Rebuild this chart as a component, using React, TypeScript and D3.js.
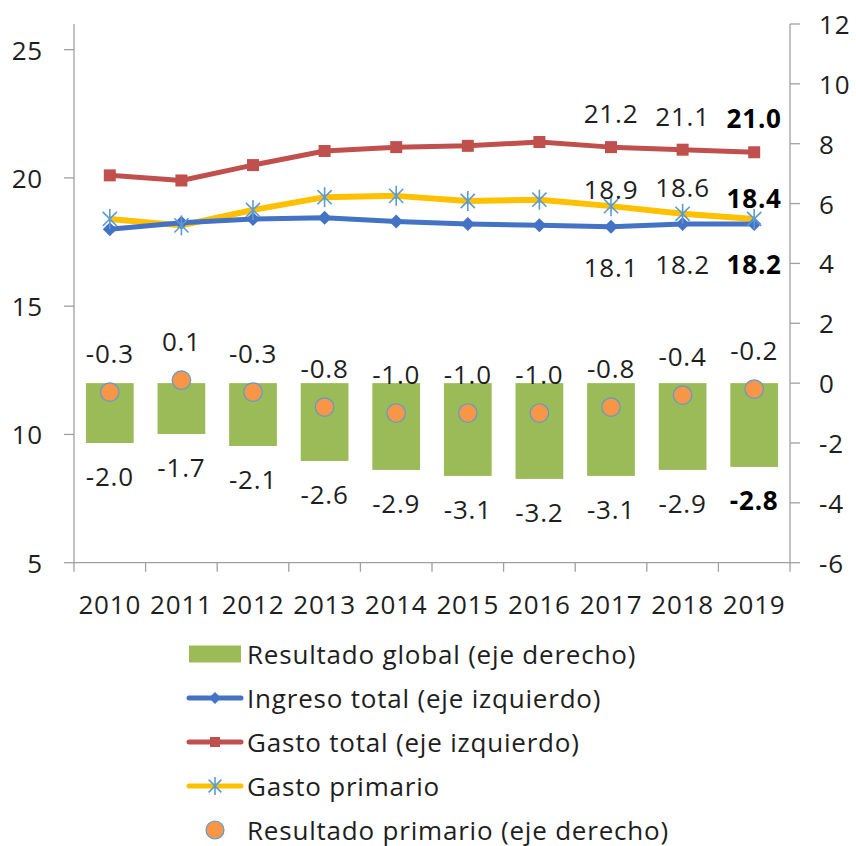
import React from "react";
import * as d3 from "d3";

const years = ["2010", "2011", "2012", "2013", "2014", "2015", "2016", "2017", "2018", "2019"];
const ingresoTotal = [18.0, 18.25, 18.4, 18.45, 18.3, 18.2, 18.15, 18.1, 18.2, 18.2];
const gastoTotal = [20.1, 19.9, 20.5, 21.05, 21.2, 21.25, 21.4, 21.2, 21.1, 21.0];
const gastoPrimario = [18.4, 18.15, 18.75, 19.25, 19.3, 19.1, 19.15, 18.9, 18.6, 18.4];
const resultadoGlobal = [-2.0, -1.7, -2.1, -2.6, -2.9, -3.1, -3.2, -3.1, -2.9, -2.8];
const resultadoPrimario = [-0.3, 0.1, -0.3, -0.8, -1.0, -1.0, -1.0, -0.8, -0.4, -0.2];
const leftTicks = [5, 10, 15, 20, 25];
const rightTicks = [-6, -4, -2, 0, 2, 4, 6, 8, 10, 12];
const legendLabels = [
  "Resultado global (eje derecho)",
  "Ingreso total (eje izquierdo)",
  "Gasto total (eje izquierdo)",
  "Gasto primario",
  "Resultado primario (eje derecho)",
];

const W = 856;
const H = 846;
const left = 74;
const right = 790;
const top = 24;
const bottom = 562.7;
const FONT = "'Open Sans', sans-serif";
const FS = 26;
const LS = 0.8;
const TXT = "#1e1e1e";
const AXIS = "#a0a0a0";

const BLUE = "#4472C4";
const RED = "#C0504D";
const YELLOW = "#FFC000";
const STAR = "#5B9BD5";
const GREEN = "#9BBB59";
const ORANGE = "#F79646";

// hyphen instead of unicode minus, like the original
const fmt = (v: number) => v.toFixed(1);

const Star = ({ cx, cy, r }: { cx: number; cy: number; r: number }) => {
  const d = r * 0.707;
  return (
    <g stroke={STAR} strokeWidth={1.6}>
      <line x1={cx} y1={cy - r} x2={cx} y2={cy + r} />
      <line x1={cx - d} y1={cy - d} x2={cx + d} y2={cy + d} />
      <line x1={cx - d} y1={cy + d} x2={cx + d} y2={cy - d} />
    </g>
  );
};

const Diamond = ({ cx, cy, r }: { cx: number; cy: number; r: number }) => (
  <path d={`M${cx},${cy - r}L${cx + r},${cy}L${cx},${cy + r}L${cx - r},${cy}Z`} fill={BLUE} />
);

export default function App() {
  const x = d3.scaleBand().domain(years).range([left, right]).padding(0);
  const bw = x.bandwidth();
  const cx = (y: string) => (x(y) as number) + bw / 2;
  const yL = d3.scaleLinear().domain([5, 26]).range([bottom, top]);
  const yR = d3.scaleLinear().domain([-6, 12]).range([bottom, top]);

  const lineL = d3
    .line<number>()
    .x((_, i) => cx(years[i]))
    .y((d) => yL(d));

  const labelIdx = [7, 8, 9];
  const primDy = [-17, -27, -21];

  return (
    <div style={{ position: "fixed", left: 0, top: 0 }}>
      <svg width={W} height={H} style={{ display: "block", background: "#fff" }} fontFamily={FONT} letterSpacing={LS}>
        {/* bars */}
        {resultadoGlobal.map((v, i) => (
          <rect
            key={"b" + i}
            x={cx(years[i]) - bw / 3}
            width={(bw * 2) / 3}
            y={yR(0)}
            height={yR(v) - yR(0)}
            fill={GREEN}
          />
        ))}

        {/* axes */}
        <line x1={left} x2={left} y1={top} y2={bottom} stroke={AXIS} strokeWidth={1.3} />
        <line x1={right} x2={right} y1={top} y2={bottom} stroke={AXIS} strokeWidth={1.3} />
        <line x1={left} x2={right} y1={bottom} y2={bottom} stroke={AXIS} strokeWidth={1.3} />
        {leftTicks.map((t) => (
          <g key={"lt" + t}>
            <line x1={left - 10} x2={left} y1={yL(t)} y2={yL(t)} stroke={AXIS} strokeWidth={1.3} />
            <text x={43} y={yL(t)} textAnchor="end" dominantBaseline="central" fontSize={FS} fill={TXT}>
              {t}
            </text>
          </g>
        ))}
        {rightTicks.map((t) => (
          <g key={"rt" + t}>
            <line x1={right} x2={right + 10} y1={yR(t)} y2={yR(t)} stroke={AXIS} strokeWidth={1.3} />
            <text x={819} y={yR(t)} textAnchor="start" dominantBaseline="central" fontSize={FS} fill={TXT}>
              {t}
            </text>
          </g>
        ))}
        {[...years.map((y) => x(y) as number), right].map((px, i) => (
          <line key={"xt" + i} x1={px} x2={px} y1={bottom} y2={bottom + 9} stroke={AXIS} strokeWidth={1.3} />
        ))}
        {years.map((y) => (
          <text key={"xl" + y} x={cx(y)} y={604} textAnchor="middle" dominantBaseline="central" fontSize={FS} fill={TXT}>
            {y}
          </text>
        ))}

        {/* lines */}
        <path d={lineL(gastoTotal) || ""} fill="none" stroke={RED} strokeWidth={5} strokeLinejoin="round" />
        <path d={lineL(gastoPrimario) || ""} fill="none" stroke={YELLOW} strokeWidth={6} strokeLinejoin="round" />
        <path d={lineL(ingresoTotal) || ""} fill="none" stroke={BLUE} strokeWidth={5} strokeLinejoin="round" />
        {gastoTotal.map((v, i) => (
          <rect key={"sq" + i} x={cx(years[i]) - 6} y={yL(v) - 6} width={12} height={12} fill={RED} />
        ))}
        {ingresoTotal.map((v, i) => (
          <Diamond key={"dm" + i} cx={cx(years[i])} cy={yL(v)} r={7} />
        ))}
        {gastoPrimario.map((v, i) => (
          <Star key={"st" + i} cx={cx(years[i])} cy={yL(v)} r={10} />
        ))}

        {/* primary result points */}
        {resultadoPrimario.map((v, i) => (
          <circle key={"c" + i} cx={cx(years[i])} cy={yR(v)} r={9.3} fill={ORANGE} stroke={STAR} strokeWidth={1.2} />
        ))}

        {/* labels */}
        {labelIdx.map((i, k) => (
          <g key={"ll" + i} fontSize={FS} textAnchor="middle" dominantBaseline="central" fill={i === 9 ? "#000" : TXT} fontWeight={i === 9 ? 700 : 400}>
            <text x={cx(years[i])} y={yL(gastoTotal[i]) - 34}>{fmt(gastoTotal[i])}</text>
            <text x={cx(years[i])} y={yL(gastoPrimario[i]) + primDy[k]}>{fmt(gastoPrimario[i])}</text>
            <text x={cx(years[i])} y={yL(ingresoTotal[i]) + 40}>{fmt(ingresoTotal[i])}</text>
          </g>
        ))}
        {resultadoPrimario.map((v, i) => (
          <text key={"pl" + i} x={cx(years[i])} y={yR(v) - 39} textAnchor="middle" dominantBaseline="central" fontSize={FS} fill={TXT}>
            {fmt(v)}
          </text>
        ))}
        {resultadoGlobal.map((v, i) => (
          <text
            key={"gl" + i}
            x={cx(years[i])}
            y={yR(v) + 33}
            textAnchor="middle"
            dominantBaseline="central"
            fontSize={FS}
            fill={i === 9 ? "#000" : TXT}
            fontWeight={i === 9 ? 700 : 400}
          >
            {fmt(v)}
          </text>
        ))}

        {/* legend */}
        {legendLabels.map((lab, i) => {
          const ly = 654 + i * 44;
          return (
            <g key={"lg" + i}>
              {i === 0 && <rect x={189} y={ly - 8.5} width={52} height={17} fill={GREEN} />}
              {i === 1 && (
                <g>
                  <line x1={189} x2={241} y1={ly} y2={ly} stroke={BLUE} strokeWidth={5} strokeLinecap="round" />
                  <Diamond cx={215} cy={ly} r={6} />
                </g>
              )}
              {i === 2 && (
                <g>
                  <line x1={189} x2={241} y1={ly} y2={ly} stroke={RED} strokeWidth={5} strokeLinecap="round" />
                  <rect x={210} y={ly - 5} width={10} height={10} fill={RED} />
                </g>
              )}
              {i === 3 && (
                <g>
                  <line x1={189} x2={241} y1={ly} y2={ly} stroke={YELLOW} strokeWidth={5} strokeLinecap="round" />
                  <Star cx={215} cy={ly} r={9} />
                </g>
              )}
              {i === 4 && <circle cx={215} cy={ly} r={9} fill={ORANGE} stroke={STAR} strokeWidth={1.2} />}
              <text x={247} y={ly} dominantBaseline="central" fontSize={FS} fill={TXT}>
                {lab}
              </text>
            </g>
          );
        })}
      </svg>
    </div>
  );
}
